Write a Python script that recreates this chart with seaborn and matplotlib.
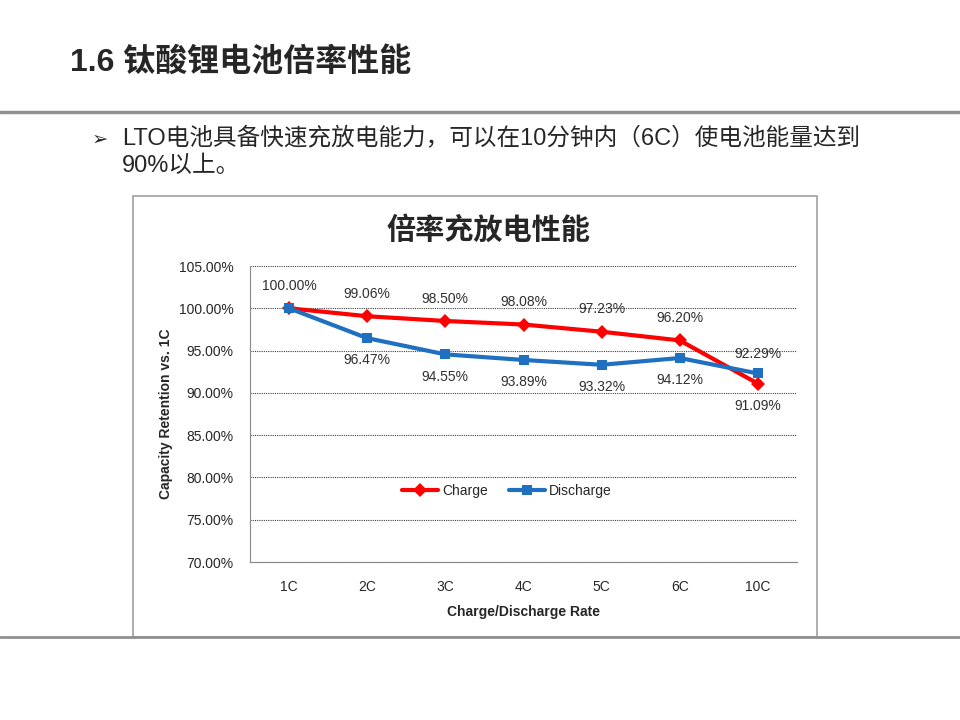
import matplotlib
matplotlib.use("Agg")
import matplotlib.pyplot as plt
import seaborn as sn
import pandas as pd
from matplotlib.lines import Line2D
from matplotlib.patches import Rectangle

rates = ["1C", "2C", "3C", "4C", "5C", "6C", "10C"]
charge = [100.00, 99.06, 98.50, 98.08, 97.23, 96.20, 91.09]
discharge = [100.00, 96.47, 94.55, 93.89, 93.32, 94.12, 92.29]
y_ticks = [70, 75, 80, 85, 90, 95, 100, 105]

sn.set_style("white")
plt.rcParams['font.family'] = ['Liberation Sans', 'Noto Sans CJK SC', 'DejaVu Sans']

df = pd.DataFrame({
    "Rate": rates * 2,
    "Retention": charge + discharge,
    "Mode": ["Charge"] * len(rates) + ["Discharge"] * len(rates),
})

fig = plt.figure(figsize=(9.6, 7.2), dpi=100)

# slide header
fig.text(70 / 960, 1 - 62 / 720, "1.6 钛酸锂电池倍率性能", fontsize=23, fontweight="bold",
         va="center", ha="left", family=['Liberation Sans', 'Noto Sans CJK SC'])
fig.add_artist(Line2D([0, 1], [1 - 112 / 720] * 2, color="#909090", lw=2.5))
fig.text(92 / 960, 1 - 139 / 720, "➢", fontsize=14, va="center", ha="left", family=['DejaVu Sans'])
fig.text(122 / 960, 1 - 139 / 720, "LTO电池具备快速充放电能力，可以在10分钟内（6C）使电池能量达到",
         fontsize=17, va="center", ha="left", family=['Liberation Sans', 'Noto Sans CJK SC'])
fig.text(122 / 960, 1 - 166 / 720, "90%以上。", fontsize=17, va="center", ha="left",
         family=['Liberation Sans', 'Noto Sans CJK SC'])
fig.add_artist(Line2D([0, 1], [1 - 637 / 720] * 2, color="#909090", lw=2))

# chart frame
fig.add_artist(Rectangle((133 / 960, 1 - 637 / 720), (817 - 133) / 960, (637 - 196) / 720,
                         transform=fig.transFigure, fill=False, edgecolor="#a0a0a0", lw=1.2))
fig.text(488 / 960, 1 - 230 / 720, "倍率充放电性能", fontsize=21, fontweight="bold",
         ha="center", va="center", family=['Noto Sans CJK SC'])

ax = fig.add_axes([250 / 960, 1 - 562 / 720, (797 - 250) / 960, (562 - 266) / 720])
sn.lineplot(data=df, x="Rate", y="Retention", hue="Mode", style="Mode",
            palette={"Charge": "#FF0000", "Discharge": "#1F70C0"},
            markers={"Charge": "D", "Discharge": "s"}, dashes=False,
            lw=3, markersize=7.5, markeredgewidth=0, ax=ax)

ax.set_xlim(-0.5, len(rates) - 0.5)
ax.set_ylim(70, 105)
ax.set_yticks(y_ticks)
ax.set_yticklabels([f"{v:.2f}%" for v in y_ticks], fontsize=10)
ax.set_xticks(range(len(rates)))
ax.set_xticklabels(rates, fontsize=10)
ax.tick_params(axis="x", length=4, color="#888888", direction="out", pad=9)
ax.tick_params(axis="y", length=0, pad=12)
ax.yaxis.grid(True, linestyle=(0, (1, 1)), color="#404040", lw=0.8)
for side in ["top", "right"]:
    ax.spines[side].set_visible(False)
for side in ["left", "bottom"]:
    ax.spines[side].set_color("#888888")
ax.set_xlabel("Charge/Discharge Rate", fontsize=10, fontweight="bold", labelpad=8)
ax.set_ylabel("Capacity Retention vs. 1C", fontsize=10, fontweight="bold", labelpad=4)

# data labels
for i, (c, d) in enumerate(zip(charge, discharge)):
    if i == 0:
        ax.annotate(f"{c:.2f}%", (i, c), xytext=(0, 16), textcoords="offset points",
                    ha="center", va="center", fontsize=10, color="#303030")
        continue
    c_off, d_off = (16, -16) if c >= d else (-16, 14)
    ax.annotate(f"{c:.2f}%", (i, c), xytext=(0, c_off), textcoords="offset points",
                ha="center", va="center", fontsize=10, color="#303030")
    ax.annotate(f"{d:.2f}%", (i, d), xytext=(0, d_off), textcoords="offset points",
                ha="center", va="center", fontsize=10, color="#303030")

leg = ax.legend(loc="center", bbox_to_anchor=(0.47, 0.24), ncol=2, frameon=False,
                fontsize=10, handlelength=2.6, columnspacing=1.5, handletextpad=0.3)
leg.set_title(None)

fig.savefig("out.png", dpi=100)
plt.close(fig)
